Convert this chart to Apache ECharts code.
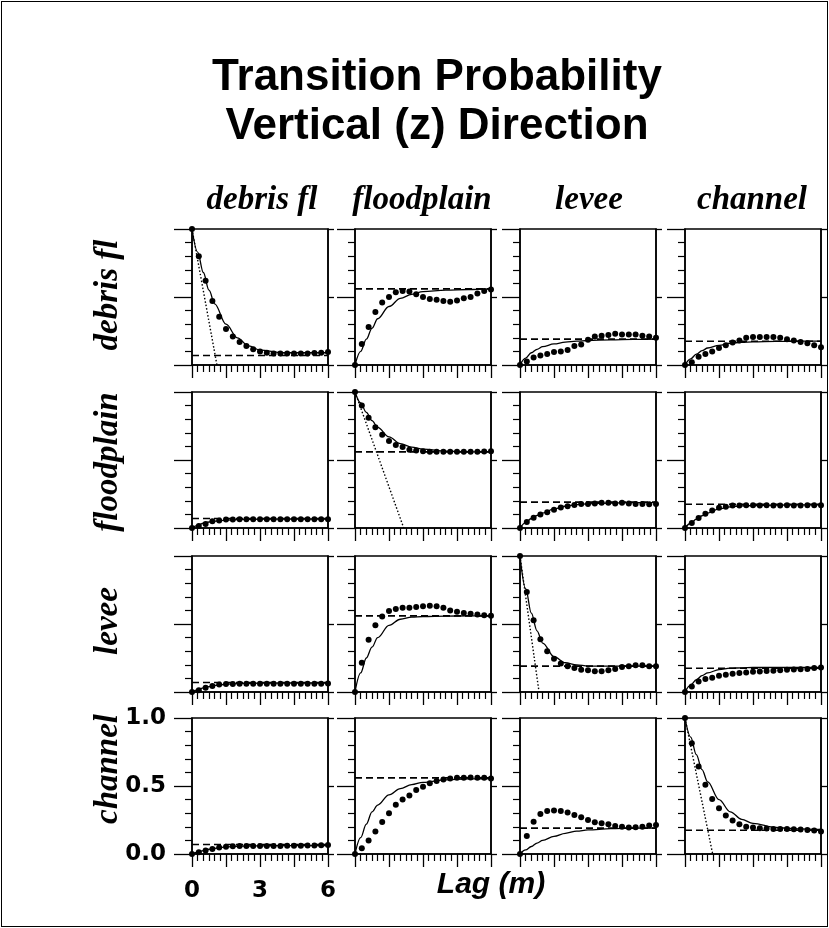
<!DOCTYPE html>
<html><head><meta charset="utf-8">
<script src="https://cdn.jsdelivr.net/npm/echarts/dist/echarts.min.js"></script>
<style>html,body{margin:0;padding:0;background:#fff}#c{width:829px;height:928px;position:absolute;left:0;top:0}#f{position:absolute;left:1px;top:1px;width:825px;height:924px;border:1px solid #000;pointer-events:none}</style>
</head><body><div id="c"></div><div id="f"></div>
<script>
const facies = ['debris fl', 'floodplain', 'levee', 'channel'];
const xTickLabels = ['0', '3', '6'];
const yTickLabels = ['0.0', '0.5', '1.0'];
const dotLags = [0, 0.3, 0.6, 0.9, 1.2, 1.5, 1.8, 2.1, 2.4, 2.7, 3.0, 3.3, 3.6, 3.9, 4.2, 4.5, 4.8, 5.1, 5.4, 5.7, 6.0];
const modelLags = [0, 0.25, 0.5, 0.75, 1, 1.5, 2, 2.5, 3, 4, 5, 6];

// measured transition probabilities (dots), row = from, column = to
const dotsDebris = [
  [1.0, 0.80, 0.62, 0.47, 0.355, 0.265, 0.21, 0.17, 0.14, 0.115, 0.10, 0.09, 0.085, 0.085, 0.085, 0.085, 0.085, 0.085, 0.088, 0.09, 0.095],
  [0, 0.155, 0.28, 0.39, 0.46, 0.50, 0.535, 0.545, 0.54, 0.52, 0.50, 0.485, 0.48, 0.47, 0.465, 0.475, 0.49, 0.50, 0.525, 0.545, 0.555],
  [0, 0.025, 0.055, 0.07, 0.08, 0.095, 0.10, 0.11, 0.14, 0.15, 0.185, 0.21, 0.215, 0.22, 0.23, 0.225, 0.225, 0.225, 0.215, 0.21, 0.20],
  [0, 0.02, 0.06, 0.08, 0.10, 0.125, 0.145, 0.165, 0.18, 0.20, 0.205, 0.205, 0.205, 0.205, 0.20, 0.19, 0.18, 0.17, 0.16, 0.145, 0.13]
];
const dotsFloodplain = [
  [0, 0.015, 0.03, 0.05, 0.055, 0.062, 0.063, 0.064, 0.064, 0.064, 0.065, 0.065, 0.065, 0.065, 0.065, 0.065, 0.065, 0.065, 0.065, 0.065, 0.065],
  [1.0, 0.90, 0.81, 0.74, 0.685, 0.64, 0.61, 0.595, 0.575, 0.57, 0.565, 0.56, 0.56, 0.56, 0.56, 0.56, 0.56, 0.56, 0.56, 0.562, 0.565],
  [0, 0.045, 0.075, 0.10, 0.115, 0.135, 0.15, 0.16, 0.17, 0.177, 0.177, 0.18, 0.185, 0.185, 0.18, 0.185, 0.18, 0.177, 0.177, 0.175, 0.177],
  [0, 0.036, 0.073, 0.104, 0.128, 0.148, 0.157, 0.165, 0.165, 0.167, 0.167, 0.165, 0.167, 0.165, 0.165, 0.167, 0.165, 0.165, 0.167, 0.167, 0.167]
];
const dotsLevee = [
  [0, 0.012, 0.032, 0.045, 0.056, 0.058, 0.058, 0.06, 0.06, 0.06, 0.06, 0.06, 0.06, 0.06, 0.06, 0.06, 0.06, 0.06, 0.06, 0.06, 0.062],
  [0, 0.215, 0.385, 0.49, 0.555, 0.595, 0.61, 0.62, 0.62, 0.625, 0.63, 0.635, 0.63, 0.62, 0.60, 0.59, 0.58, 0.575, 0.57, 0.565, 0.56],
  [1.0, 0.735, 0.527, 0.387, 0.30, 0.245, 0.21, 0.19, 0.176, 0.164, 0.16, 0.152, 0.152, 0.16, 0.17, 0.184, 0.19, 0.196, 0.196, 0.19, 0.19],
  [0, 0.04, 0.078, 0.095, 0.105, 0.12, 0.127, 0.134, 0.14, 0.144, 0.149, 0.15, 0.154, 0.156, 0.16, 0.163, 0.166, 0.168, 0.17, 0.176, 0.18]
];
const dotsChannel = [
  [0, 0.012, 0.025, 0.037, 0.047, 0.054, 0.057, 0.058, 0.058, 0.058, 0.058, 0.058, 0.058, 0.058, 0.06, 0.06, 0.06, 0.062, 0.063, 0.065, 0.066],
  [0, 0.042, 0.10, 0.165, 0.235, 0.30, 0.363, 0.40, 0.43, 0.47, 0.494, 0.52, 0.536, 0.548, 0.556, 0.56, 0.56, 0.562, 0.56, 0.56, 0.555],
  [0, 0.133, 0.238, 0.295, 0.317, 0.32, 0.317, 0.305, 0.287, 0.27, 0.25, 0.233, 0.226, 0.219, 0.206, 0.2, 0.194, 0.197, 0.2, 0.21, 0.214],
  [1.0, 0.815, 0.644, 0.509, 0.405, 0.337, 0.283, 0.246, 0.219, 0.2, 0.194, 0.19, 0.187, 0.184, 0.184, 0.184, 0.182, 0.18, 0.177, 0.172, 0.165]
];

// Markov chain model curves (solid lines)
const modelDebris = [
  [1, 0.83, 0.68, 0.55, 0.45, 0.30, 0.20, 0.14, 0.11, 0.09, 0.09, 0.09],
  [0, 0.10, 0.19, 0.27, 0.34, 0.43, 0.49, 0.52, 0.54, 0.55, 0.555, 0.56],
  [0, 0.05, 0.09, 0.115, 0.135, 0.155, 0.168, 0.175, 0.18, 0.185, 0.188, 0.19],
  [0, 0.045, 0.08, 0.105, 0.125, 0.145, 0.16, 0.167, 0.17, 0.173, 0.175, 0.175]
];
const modelFloodplain = [
  [0, 0.02, 0.035, 0.044, 0.05, 0.058, 0.062, 0.064, 0.065, 0.066, 0.066, 0.066],
  [1, 0.92, 0.85, 0.79, 0.74, 0.67, 0.62, 0.595, 0.58, 0.565, 0.56, 0.56],
  [0, 0.04, 0.07, 0.092, 0.11, 0.14, 0.16, 0.172, 0.178, 0.184, 0.186, 0.186],
  [0, 0.035, 0.065, 0.09, 0.11, 0.14, 0.155, 0.162, 0.165, 0.168, 0.17, 0.17]
];
const modelLevee = [
  [0, 0.015, 0.03, 0.04, 0.048, 0.057, 0.062, 0.064, 0.065, 0.066, 0.066, 0.066],
  [0, 0.14, 0.25, 0.33, 0.40, 0.49, 0.535, 0.55, 0.555, 0.558, 0.56, 0.56],
  [1, 0.76, 0.58, 0.45, 0.36, 0.26, 0.215, 0.20, 0.19, 0.19, 0.19, 0.19],
  [0, 0.05, 0.09, 0.12, 0.14, 0.165, 0.175, 0.178, 0.18, 0.18, 0.18, 0.18]
];
const modelChannel = [
  [0, 0.013, 0.025, 0.035, 0.042, 0.052, 0.057, 0.059, 0.06, 0.061, 0.062, 0.062],
  [0, 0.12, 0.22, 0.31, 0.36, 0.435, 0.48, 0.51, 0.527, 0.545, 0.552, 0.555],
  [0, 0.03, 0.055, 0.08, 0.10, 0.13, 0.152, 0.168, 0.177, 0.186, 0.19, 0.19],
  [1, 0.86, 0.73, 0.62, 0.53, 0.40, 0.31, 0.255, 0.225, 0.195, 0.185, 0.18]
];

// facies proportions (dashed lines), per "to" column
const proportions = [0.07, 0.56, 0.19, 0.175];
// lag where the slope-at-origin line reaches zero (diagonal panels)
const tangentZeroLag = [1.1, 2.15, 0.84, 1.22];

const dots = [dotsDebris, dotsFloodplain, dotsLevee, dotsChannel];
const models = [modelDebris, modelFloodplain, modelLevee, modelChannel];

const tops = [229, 392, 556, 718];
const lefts = [192, 355, 520, 685];
const PW = 136, PH = 136;
const BLACK = '#000';
const tickFont = {fontFamily: 'DejaVu Sans', fontWeight: 'bold', fontSize: 23, color: BLACK};

const grids = [], xAxes = [], yAxes = [], series = [];
for (let r = 0; r < 4; r++) {
  for (let c = 0; c < 4; c++) {
    const g = r * 4 + c;
    const showLab = (r === 3 && c === 0);
    grids.push({left: lefts[c], top: tops[r], width: PW, height: PH, show: true,
      borderColor: BLACK, borderWidth: 1.5, backgroundColor: 'transparent',
      containLabel: false, outerBoundsMode: 'none'});
    xAxes.push({type: 'value', gridIndex: g, min: 0, max: 6, interval: 1.5, position: 'bottom',
      axisLine: {show: true, onZero: false, lineStyle: {color: BLACK, width: 1.5}},
      axisTick: {show: true, length: 13, lineStyle: {color: BLACK, width: 1.3}},
      minorTick: {show: true, splitNumber: 6, length: 7, lineStyle: {color: BLACK, width: 1.2}},
      splitLine: {show: false}, minorSplitLine: {show: false},
      axisLabel: Object.assign({show: showLab, margin: 26, showMinLabel: true, showMaxLabel: true,
        formatter: v => (Math.abs(v % 3) < 1e-9 ? xTickLabels[Math.round(v / 3)] : '')}, tickFont)});
    yAxes.push({type: 'value', gridIndex: g, min: 0, max: 1, interval: 0.5, position: 'left',
      axisLine: {show: true, onZero: false, lineStyle: {color: BLACK, width: 1.5}},
      axisTick: {show: true, length: 18, lineStyle: {color: BLACK, width: 1.3}},
      minorTick: {show: true, splitNumber: 5, length: 7, lineStyle: {color: BLACK, width: 1.2}},
      splitLine: {show: false}, minorSplitLine: {show: false},
      axisLabel: Object.assign({show: showLab, margin: 26, showMinLabel: true, showMaxLabel: true,
        formatter: v => yTickLabels[Math.round(v * 2)]}, tickFont)});
    yAxes.push({type: 'value', gridIndex: g, min: 0, max: 1, interval: 0.5, position: 'right',
      axisLine: {show: true, onZero: false, lineStyle: {color: BLACK, width: 1.5}},
      axisTick: {show: true, length: 6, lineStyle: {color: BLACK, width: 1.3}},
      splitLine: {show: false}, axisLabel: {show: false}});

    const yi = 2 * g;
    series.push({type: 'line', xAxisIndex: g, yAxisIndex: yi, silent: true,
      data: [[0, proportions[c]], [6, proportions[c]]], showSymbol: false, symbol: 'none',
      lineStyle: {color: BLACK, width: 1.6, type: [7, 4]}, z: 2});
    if (r === c) {
      series.push({type: 'line', xAxisIndex: g, yAxisIndex: yi, silent: true,
        data: [[0, 1], [tangentZeroLag[r], 0]], showSymbol: false, symbol: 'none',
        lineStyle: {color: BLACK, width: 1.4, type: [1.5, 2]}, z: 2});
    }
    series.push({type: 'line', xAxisIndex: g, yAxisIndex: yi, silent: true,
      data: modelLags.map((x, i) => [x, models[r][c][i]]), smooth: 0.35, smoothMonotone: 'x',
      showSymbol: false, symbol: 'none', lineStyle: {color: BLACK, width: 1.3}, z: 3});
    series.push({type: 'scatter', xAxisIndex: g, yAxisIndex: yi, silent: true,
      data: dotLags.map((x, i) => [x, dots[r][c][i]]), symbol: 'circle', symbolSize: 6,
      itemStyle: {color: BLACK, opacity: 1}, z: 4});
  }
}

const colCenters = [262, 422, 589, 752];
const rowCenters = [295, 462, 621, 769];
const rowLabelX = 108;
const centerStyle = {fill: BLACK, align: 'center', verticalAlign: 'middle', textAlign: 'center', textVerticalAlign: 'middle'};
const graphics = [
  {type: 'text', x: 437, y: 78, style: Object.assign({text: 'Transition Probability', font: 'bold 44px "Liberation Sans"'}, centerStyle)},
  {type: 'text', x: 437, y: 127, style: Object.assign({text: 'Vertical (z) Direction', font: 'bold 44px "Liberation Sans"'}, centerStyle)},
  {type: 'text', x: 491, y: 885, style: Object.assign({text: 'Lag (m)', font: 'italic bold 30px "Liberation Sans"'}, centerStyle)}
];
facies.forEach((f, i) => {
  graphics.push({type: 'text', x: colCenters[i], y: 200, style: Object.assign({text: f, font: 'italic bold 33px "Liberation Serif"'}, centerStyle)});
  graphics.push({type: 'text', x: rowLabelX, y: rowCenters[i], rotation: Math.PI / 2, style: Object.assign({text: f, font: 'italic bold 33px "Liberation Serif"'}, centerStyle)});
});

const chart = echarts.init(document.getElementById('c'), null, {renderer: 'canvas'});
chart.setOption({backgroundColor: '#fff', animation: false, grid: grids, xAxis: xAxes, yAxis: yAxes, series: series, graphic: graphics});
</script></body></html>
